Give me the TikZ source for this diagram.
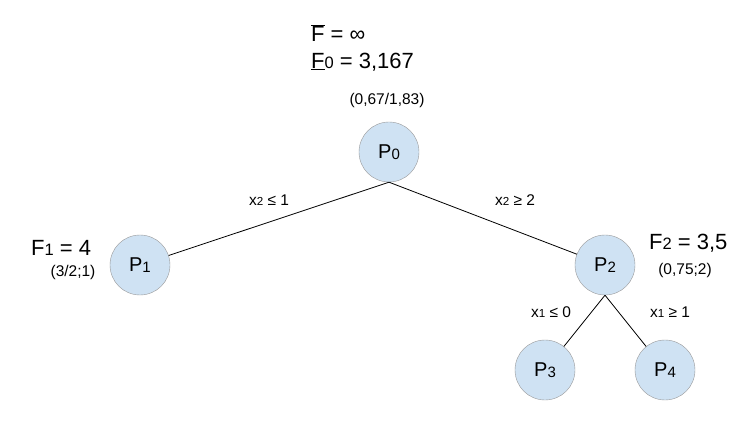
\documentclass[tikz,border=0pt]{standalone}
\usepackage{fontspec}
\setmainfont{Liberation Sans}
\definecolor{nodefill}{HTML}{CFE2F3}
\newcommand{\sbs}[1]{{\fontsize{0.75em}{1em}\selectfont\raisebox{-0.5pt}{#1}}}
\begin{document}
\begin{tikzpicture}[x=1pt,y=-1pt,
  pn/.style={circle,draw=gray!80,fill=nodefill,minimum size=60pt,inner sep=0pt,font=\fontsize{20}{22}\selectfont},
  lbl/.style={font=\fontsize{15.5}{17}\selectfont,inner sep=1pt},
  big/.style={font=\fontsize{22}{24}\selectfont,inner sep=1pt,anchor=west}]
\useasboundingbox (0,0) rectangle (750,422);
\node[pn] (P0) at (389,152) {P\sbs{0}};
\node[pn] (P1) at (140,265) {P\sbs{1}};
\node[pn] (P2) at (605,265) {P\sbs{2}};
\node[pn] (P3) at (545,370) {P\sbs{3}};
\node[pn] (P4) at (665,370) {P\sbs{4}};
\draw[line width=0.8pt] (P0.south) -- (P1);
\draw[line width=0.8pt] (P0.south) -- (P2);
\draw[line width=0.8pt] (P2.south) -- (P3);
\draw[line width=0.8pt] (P2.south) -- (P4);
\node[lbl] (e1) at (269,200) {x\sbs{2} ≤ 1};
\node[lbl] (e2) at (515,200) {x\sbs{2} ≥ 2};
\node[lbl] (e3) at (551,312) {x\sbs{1} ≤ 0};
\node[lbl] (e4) at (670,312) {x\sbs{1} ≥ 1};
\node[big] (f1) at (30,248) {F\sbs{1} = 4};
\node[lbl] (s1) at (73,272) {(3/2;1)};
\node[big] (f2) at (648,243) {F\sbs{2} = 3,5};
\node[lbl] (s2) at (685,270) {(0,75;2)};
\node[big] (fu) at (310,33) {$\overline{\hbox{F}}$ = ∞};
\node[big] (fl) at (310,62) {\underline{F}\sbs{0} = 3,167};
\node[lbl] (s0) at (387,100) {(0,67/1,83)};
\end{tikzpicture}
\end{document}
